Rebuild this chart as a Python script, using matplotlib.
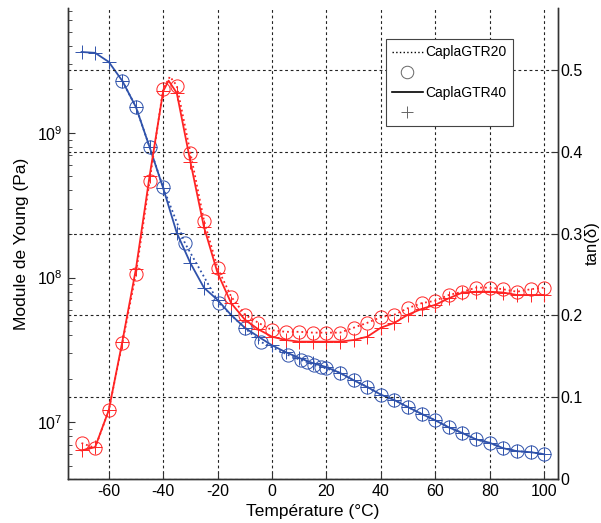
"""Module de Young et tan(delta) en fonction de la temperature, CaplaGTR20 / CaplaGTR40."""
import matplotlib
matplotlib.use("Agg")
import matplotlib.pyplot as plt
from matplotlib.lines import Line2D

plt.rcParams["font.family"] = ["Liberation Sans", "DejaVu Sans"]
plt.rcParams["axes.unicode_minus"] = False
plt.rcParams["mathtext.fontset"] = "custom"
plt.rcParams["mathtext.rm"] = "Liberation Sans"

# --- data --------------------------------------------------------------
# CaplaGTR40 modulus (solid blue, "+")
temp_mod40 = [-70, -65, -60, -55, -50, -45, -40, -35, -30, -25, -20, -15, -10, -5,
              0, 5, 10, 15, 20, 25, 30, 35, 40, 45, 50, 55, 60, 65, 70, 75, 80,
              85, 90, 95, 100]
mod_gtr40 = [3.63e9, 3.58e9, 3.1e9, 2.29e9, 1.51e9, 8.0e8, 4.16e8, 2.04e8, 1.26e8,
             8.5e7, 7.0e7, 5.5e7, 4.5e7, 3.9e7, 3.4e7, 3.05e7, 2.78e7, 2.56e7,
             2.4e7, 2.19e7, 1.95e7, 1.75e7, 1.55e7, 1.42e7, 1.27e7, 1.14e7, 1.03e7,
             9.2e6, 8.4e6, 7.6e6, 7.2e6, 6.6e6, 6.3e6, 6.2e6, 6.0e6]

# CaplaGTR20 modulus (dotted blue, "o")
temp_mod20 = [-55, -50, -45, -40, -32, -19.5, -10, -4, 6, 10.5, 13, 15.5, 18, 20,
              25, 30, 35, 40, 45, 50, 55, 60, 65, 70, 75, 80, 85, 90, 95, 100]
mod_gtr20 = [2.29e9, 1.51e9, 8.0e8, 4.2e8, 1.73e8, 6.65e7, 4.47e7, 3.58e7, 2.91e7,
             2.69e7, 2.6e7, 2.48e7, 2.4e7, 2.35e7, 2.19e7, 1.95e7, 1.75e7, 1.55e7,
             1.42e7, 1.27e7, 1.14e7, 1.03e7, 9.2e6, 8.4e6, 7.6e6, 7.2e6, 6.6e6,
             6.3e6, 6.2e6, 6.0e6]

# CaplaGTR40 tan(delta) (solid red, "+"); -38 is the unmarked peak
temp_tan40 = [-70, -65, -60, -55, -50, -45, -40, -38, -35, -30, -25, -20, -15, -10,
              -5, 0, 5, 10, 15, 20, 25, 30, 35, 40, 45, 50, 55, 60, 65, 70, 75, 80,
              85, 90, 95, 100]
tan_gtr40 = [0.035, 0.039, 0.084, 0.168, 0.257, 0.370, 0.474, 0.487, 0.472, 0.388,
             0.308, 0.252, 0.215, 0.195, 0.183, 0.174, 0.170, 0.168, 0.168, 0.168,
             0.168, 0.170, 0.174, 0.185, 0.191, 0.201, 0.208, 0.213, 0.221, 0.228,
             0.229, 0.229, 0.228, 0.225, 0.225, 0.225]

# CaplaGTR20 tan(delta) (dotted red, "o"); -37.5 is the unmarked peak
temp_tan20 = [-70, -65, -60, -55, -50, -45, -40, -37.5, -35, -30, -25, -20, -15, -10,
              -5, 0, 5, 10, 15, 20, 25, 30, 35, 40, 45, 50, 55, 60, 65, 70, 75, 80,
              85, 90, 95, 100]
tan_gtr20 = [0.044, 0.038, 0.084, 0.166, 0.251, 0.364, 0.477, 0.492, 0.481, 0.399,
             0.316, 0.258, 0.223, 0.201, 0.191, 0.182, 0.180, 0.180, 0.179, 0.179,
             0.179, 0.185, 0.191, 0.198, 0.201, 0.209, 0.215, 0.218, 0.225, 0.229,
             0.234, 0.234, 0.232, 0.229, 0.232, 0.234]

x_ticks = [-60, -40, -20, 0, 20, 40, 60, 80, 100]
tan_ticks = [0, 0.1, 0.2, 0.3, 0.4, 0.5]

BLUE = "#2f52ab"
RED = "#ff2424"


def on_grid(temps):
    """Indices of points sitting on the 5 degC marker grid."""
    return [i for i, t in enumerate(temps) if t % 5 == 0]


fig = plt.figure(figsize=(6.01, 5.23), dpi=100)
ax1 = fig.add_axes([0.113, 0.084, 0.815, 0.901])
ax2 = ax1.twinx()

mk = dict(markersize=9.5, markeredgewidth=0.7, markerfacecolor="none")

ax1.plot(temp_mod20, mod_gtr20, ls=":", lw=1.3, color=BLUE, marker="o", **mk)
ax1.plot(temp_mod40, mod_gtr40, ls="-", lw=1.3, color=BLUE, marker="+", **mk)
ax2.plot(temp_tan20, tan_gtr20, ls=":", lw=1.3, color=RED, marker="o",
         markevery=on_grid(temp_tan20), **mk)
ax2.plot(temp_tan40, tan_gtr40, ls="-", lw=1.3, color=RED, marker="+",
         markevery=on_grid(temp_tan40), **mk)

ax1.set_xlim(-75, 105)
ax1.set_yscale("log")
ax1.set_ylim(4.04e6, 7.33e9)
ax2.set_ylim(0, 0.576)
ax1.set_xticks(x_ticks)
ax1.set_xticklabels([str(t) for t in x_ticks])
ax2.set_yticks(tan_ticks)
ax2.set_yticklabels(["0", "0.1", "0.2", "0.3", "0.4", "0.5"])

for ax in (ax1, ax2):
    ax.spines["top"].set_visible(False)
    for side in ("left", "right", "bottom"):
        ax.spines[side].set_linewidth(1.0)
        ax.spines[side].set_color("#333333")
    ax.tick_params(which="both", direction="in", labelsize=11.5, color="#333333")
    ax.tick_params(which="major", length=5)
    ax.tick_params(which="minor", length=3)
ax2.tick_params(axis="y", pad=2)

grid_kw = dict(color="#222222", linestyle=(0, (2.5, 2.5)), linewidth=0.8)
ax1.grid(True, axis="x", **grid_kw)
ax2.grid(True, axis="y", **grid_kw)

ax1.set_xlabel("Température (°C)", fontsize=12.5, labelpad=4)
ax1.set_ylabel("Module de Young (Pa)", fontsize=12.5, labelpad=6)
ax2.set_ylabel("tan(δ)", fontsize=12, labelpad=1)

handles = [
    Line2D([], [], color="black", ls=":", lw=1.0),
    Line2D([], [], color="#666666", ls="none", marker="o", markersize=9,
           markerfacecolor="none", markeredgewidth=0.7),
    Line2D([], [], color="black", ls="-", lw=1.2),
    Line2D([], [], color="#666666", ls="none", marker="+", markersize=9,
           markeredgewidth=0.7),
]
labels = ["CaplaGTR20", "", "CaplaGTR40", ""]
leg = ax2.legend(handles, labels, loc="upper left", bbox_to_anchor=(0.642, 0.925),
                 bbox_transform=fig.transFigure, fontsize=10, frameon=True,
                 fancybox=False, framealpha=1, edgecolor="#444444",
                 handlelength=2.2, handletextpad=0.2, borderpad=0.45,
                 labelspacing=0.45, borderaxespad=0)
leg.get_frame().set_linewidth(0.8)

fig.savefig("out.png", dpi=100)
